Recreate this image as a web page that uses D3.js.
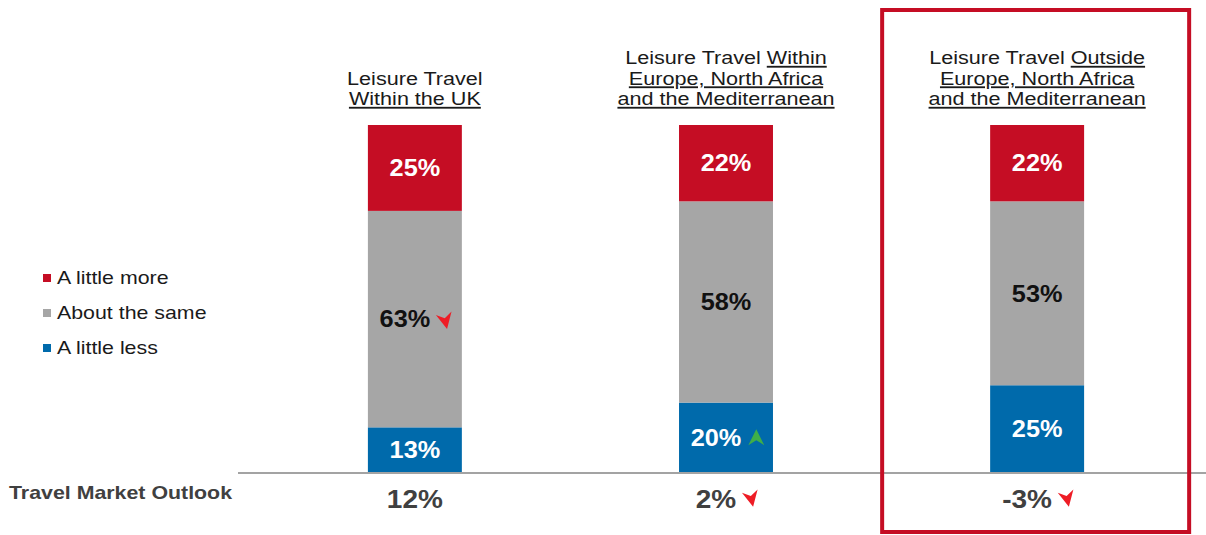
<!DOCTYPE html>
<html>
<head>
<meta charset="utf-8">
<script src="https://cdn.jsdelivr.net/npm/d3@7"></script>
<style>
  body { margin: 0; background: #fff; }
  text { font-family: "Liberation Sans", Arial, sans-serif; }
</style>
</head>
<body>
<div id="chart"></div>
<script>
// data
var categories = ["uk", "europe", "outside"];
var titleLines = [
    [[["Leisure Travel", false]], [["Within the UK", true]]],
    [[["Leisure Travel ", false], ["Within", true]], [["Europe, North Africa", true]], [["and the Mediterranean", true]]],
    [[["Leisure Travel ", false], ["Outside", true]], [["Europe, North Africa", true]], [["and the Mediterranean", true]]]
];
var seriesNames = ["A little less", "About the same", "A little more"];
var lessVals = [13, 20, 25];
var sameVals = [63, 58, 53];
var moreVals = [25, 22, 22];
var lessArrows = [null, "up", null];
var sameArrows = ["down", null, null];
var moreArrows = [null, null, null];
var outlookVals = [12, 2, -3];
var outlookArrows = [null, "down", "down"];
var legendOrder = ["A little more", "About the same", "A little less"];

var width = 1206, height = 535;
var colors = {"A little more": "#c50d24", "About the same": "#a6a6a6", "A little less": "#006aab"};
var labelColors = {"A little more": "#fff", "About the same": "#111", "A little less": "#fff"};

var svg = d3.select("#chart").append("svg")
    .attr("width", width)
    .attr("height", height);

var x = d3.scaleBand()
    .domain(categories)
    .range([259, 1193])
    .paddingInner(0.698)
    .paddingOuter(0.35);

var y = d3.scaleLinear()
    .domain([0, 1])
    .range([472, 125]);

var rows = categories.map(function(c, i) {
    return {cat: c, "A little less": lessVals[i], "About the same": sameVals[i], "A little more": moreVals[i], i: i};
});
var arrowsBySeries = {"A little less": lessArrows, "About the same": sameArrows, "A little more": moreArrows};

var stack = d3.stack().keys(seriesNames).offset(d3.stackOffsetExpand);
var layers = stack(rows);

function arrowPath(dir) {
    // arrowhead, tip at bottom for "down"
    if (dir == "down") return "M0,9 L-8,-7 L0,-2 L8,-7 Z";
    return "M0,-9 L-8,7 L0,2 L8,7 Z";
}
function arrowColor(dir) { return dir == "up" ? "#3fae49" : "#ee1c25"; }

// stretched text helper (the reference glyphs are wider than the font)
function stretchText(sel, px, py, sx, anchor) {
    return sel.append("text")
        .attr("transform", "translate(" + px + "," + py + ")scale(" + sx + ",1)")
        .attr("text-anchor", anchor || "start");
}

// baseline
svg.append("line")
    .attr("x1", 238).attr("x2", width)
    .attr("y1", y(0) + 1).attr("y2", y(0) + 1)
    .style("stroke", "#a3a3a3")
    .style("stroke-width", 2);

var g = svg.append("g");
layers.forEach(function(layer) {
    var key = layer.key;
    g.selectAll(".seg-" + key.replace(/ /g, ""))
        .data(layer)
        .enter().append("rect")
        .attr("x", function(d) { return x(d.data.cat); })
        .attr("y", function(d) { return y(d[1]); })
        .attr("width", x.bandwidth())
        .attr("height", function(d) { return y(d[0]) - y(d[1]); })
        .attr("fill", colors[key]);

    layer.forEach(function(d) {
        var cx = x(d.data.cat) + x.bandwidth() / 2;
        var cy = (y(d[0]) + y(d[1])) / 2;
        var arr = arrowsBySeries[key][d.data.i];
        var sx = 1.1;
        var t = stretchText(g, cx, cy, sx, "middle")
            .attr("dy", "0.36em")
            .style("font-size", "23px")
            .style("font-weight", "bold")
            .style("fill", labelColors[key])
            .text(d.data[key] + "%");
        if (arr) {
            var w = t.node().getComputedTextLength() * sx;
            t.attr("transform", "translate(" + (cx - 10) + "," + cy + ")scale(" + sx + ",1)");
            g.append("path")
                .attr("d", arrowPath(arr))
                .attr("transform", "translate(" + (cx - 10 + w / 2 + 15) + "," + (cy + 1) + ")rotate(" + (arr == "down" ? -12 : 0) + ")")
                .attr("fill", arrowColor(arr));
        }
    });
});

// column titles
categories.forEach(function(c, i) {
    var lines = titleLines[i];
    var cx = x(c) + x.bandwidth() / 2;
    var lineH = 20.5;
    var lastY = 105;
    lines.forEach(function(line, j) {
        var t = stretchText(svg, cx, lastY - (lines.length - 1 - j) * lineH, 1.18, "middle")
            .style("font-size", "18.3px")
            .style("fill", "#1a1a1a");
        line.forEach(function(part) {
            t.append("tspan")
                .style("text-decoration", part[1] ? "underline" : "none")
                .text(part[0]);
        });
    });
});

// legend
legendOrder.forEach(function(name, i) {
    var ly = 278 + i * 35;
    svg.append("rect")
        .attr("x", 43).attr("y", ly - 4)
        .attr("width", 8).attr("height", 8)
        .attr("fill", colors[name]);
    stretchText(svg, 57, ly, 1.22)
        .attr("dy", "0.35em")
        .style("font-size", "17.5px")
        .style("fill", "#1a1a1a")
        .text(name);
});

// travel market outlook row
stretchText(svg, 9, 499, 1.22)
    .style("font-size", "17.5px")
    .style("font-weight", "bold")
    .style("fill", "#404040")
    .text("Travel Market Outlook");

categories.forEach(function(c, i) {
    var cx = x(c) + x.bandwidth() / 2;
    var arr = outlookArrows[i];
    var sx = 1.12;
    var t = stretchText(svg, cx, 508, sx, "middle")
        .style("font-size", "25px")
        .style("font-weight", "bold")
        .style("fill", "#404040")
        .text(outlookVals[i] + "%");
    if (arr) {
        var w = t.node().getComputedTextLength() * sx;
        t.attr("transform", "translate(" + (cx - 10) + ",508)scale(" + sx + ",1)");
        svg.append("path")
            .attr("d", arrowPath(arr))
            .attr("transform", "translate(" + (cx - 10 + w / 2 + 15) + ",498)rotate(-12)")
            .attr("fill", arrowColor(arr));
    }
});

// highlight box around last column
var last = categories[categories.length - 1];
svg.append("rect")
    .attr("x", x(last) - 108)
    .attr("y", 10)
    .attr("width", 307)
    .attr("height", 522)
    .attr("fill", "none")
    .style("stroke", "#c50d24")
    .style("stroke-width", 4);
</script>
</body>
</html>
